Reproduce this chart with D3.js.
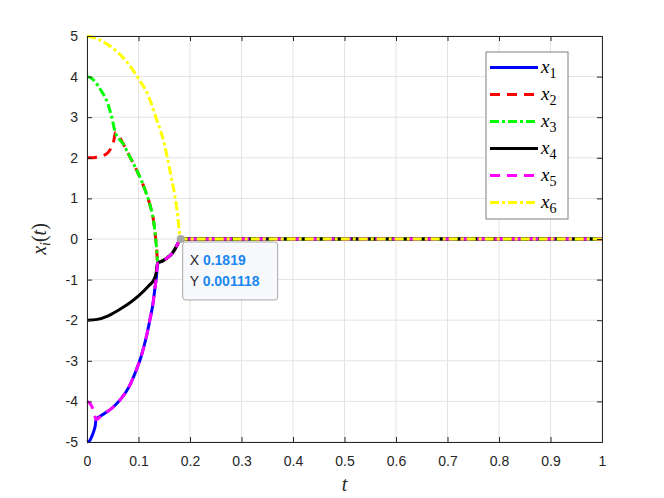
<!DOCTYPE html>
<html>
<head>
<meta charset="utf-8">
<script src="https://cdn.jsdelivr.net/npm/d3@7"></script>
<style>
    body { margin: 0; background: #fff; }
    svg { display: block; }
    .tick text { font-family: "Liberation Sans", Arial, sans-serif; font-size: 14px; fill: #262626; }
</style>
</head>
<body>
<svg id="chart" width="664" height="498"></svg>
<script>
// ticks
var xTicks = [0, 0.1, 0.2, 0.3, 0.4, 0.5, 0.6, 0.7, 0.8, 0.9, 1];
var yTicks = [-5, -4, -3, -2, -1, 0, 1, 2, 3, 4, 5];

// shared tail after the agents meet (x1, x3, x4, x5), then consensus at 0
var tailT = [0.137, 0.145, 0.155, 0.165, 0.172, 0.177, 0.1819, 1];
var tailV = [-0.6, -0.55, -0.47, -0.36, -0.22, -0.1, 0.001118, 0];

// x1 / x5 shared rising part
var lowT = [0.0175, 0.03, 0.05, 0.065, 0.08, 0.095, 0.105, 0.115, 0.122, 0.128, 0.132, 0.135];
var lowV = [-4.45, -4.33, -4.15, -3.95, -3.68, -3.25, -2.9, -2.42, -2.0, -1.6, -1.2, -0.9];

// x2 / x3 shared falling part
var midT = [0.07, 0.083, 0.1, 0.113, 0.122, 0.129, 0.133, 0.1355];
var midV = [2.35, 2.03, 1.6, 1.2, 0.85, 0.47, 0.05, -0.3];

var x1T = [0, 0.005, 0.009, 0.0135, 0.016];
var x1V = [-5, -4.97, -4.87, -4.72, -4.6];
var x2T = [0, 0.01, 0.02, 0.03, 0.04, 0.047, 0.052, 0.055];
var x2V = [2, 2.0, 2.02, 2.05, 2.12, 2.25, 2.42, 2.62];
var x3T = [0, 0.01, 0.02, 0.03, 0.04, 0.048, 0.055];
var x3V = [4, 3.95, 3.8, 3.6, 3.35, 3.0, 2.62];
var x4T = [0, 0.02, 0.04, 0.06, 0.08, 0.1, 0.12, 0.13, 0.134];
var x4V = [-2, -1.98, -1.9, -1.76, -1.6, -1.4, -1.15, -1.0, -0.85];
var x5T = [0, 0.005, 0.01, 0.014, 0.0175];
var x5V = [-4, -4.04, -4.14, -4.28, -4.45];
var x6T = [0, 0.025, 0.05, 0.075, 0.1, 0.12, 0.135, 0.15, 0.16, 0.17, 0.175, 0.1819, 1];
var x6V = [5, 4.9, 4.7, 4.4, 3.95, 3.5, 2.95, 2.35, 1.75, 1.1, 0.7, 0.001118, 0];

var names = ["1", "2", "3", "4", "5", "6"];
var colors = ["#0000ff", "#ff0000", "#00ff00", "#000000", "#ff00ff", "#ffff00"];
var dashes = [null, "10,7", "9,3,3,3", null, "10,7", "9,3,3,3"];

var tipT = 0.1819, tipV = 0.001118;

function zip(t, v) {
    return t.map(function (d, i) { return [d, v[i]]; });
}

var series = [
    zip(x1T, x1V).concat(zip(lowT, lowV), zip(tailT, tailV)),
    zip(x2T, x2V).concat(zip(midT, midV), zip(tailT, tailV)),
    zip(x3T, x3V).concat(zip(midT, midV), zip(tailT, tailV)),
    zip(x4T, x4V).concat(zip(tailT, tailV)),
    zip(x5T, x5V).concat(zip(lowT.slice(1), lowV.slice(1)), zip(tailT, tailV)),
    zip(x6T, x6V)
];

var svg = d3.select("#chart"),
    margin = {top: 36, right: 62, bottom: 56, left: 87},
    width = +svg.attr("width") - margin.left - margin.right,
    height = +svg.attr("height") - margin.top - margin.bottom,
    g = svg.append("g").attr("transform", "translate(" + margin.left + "," + margin.top + ")");

var x = d3.scaleLinear().domain([0, 1]).range([0, width]);
var y = d3.scaleLinear().domain([-5, 5]).range([height, 0]);

// grid
g.append("g").selectAll("line").data(xTicks).enter().append("line")
    .attr("x1", function (d) { return x(d); }).attr("x2", function (d) { return x(d); })
    .attr("y1", 0).attr("y2", height)
    .attr("stroke", "#e3e3e3").attr("stroke-width", 1);
g.append("g").selectAll("line").data(yTicks).enter().append("line")
    .attr("y1", function (d) { return y(d); }).attr("y2", function (d) { return y(d); })
    .attr("x1", 0).attr("x2", width)
    .attr("stroke", "#e3e3e3").attr("stroke-width", 1);

// lines
var line = d3.line()
    .curve(d3.curveMonotoneX)
    .x(function (d) { return x(d[0]); })
    .y(function (d) { return y(d[1]); });

series.forEach(function (s, i) {
    g.append("path")
        .attr("d", line(s))
        .attr("fill", "none")
        .attr("stroke", colors[i])
        .attr("stroke-width", 3)
        .attr("stroke-dasharray", dashes[i]);
});

// axes
function styleAxis(sel) {
    sel.select(".domain").attr("stroke", "#262626");
    sel.selectAll(".tick line").attr("stroke", "#262626");
}
var fmt = function (d) { return String(d); };
g.append("g").attr("transform", "translate(0," + height + ")")
    .call(d3.axisBottom(x).tickValues(xTicks).tickSize(-5).tickPadding(14).tickFormat(fmt))
    .call(styleAxis);
g.append("g")
    .call(d3.axisTop(x).tickValues(xTicks).tickSize(-5).tickFormat(""))
    .call(styleAxis);
g.append("g")
    .call(d3.axisLeft(y).tickValues(yTicks).tickSize(-5).tickPadding(9).tickFormat(fmt))
    .call(styleAxis);
g.append("g").attr("transform", "translate(" + width + ",0)")
    .call(d3.axisRight(y).tickValues(yTicks).tickSize(-5).tickFormat(""))
    .call(styleAxis);
g.selectAll(".domain").attr("stroke-width", 1);

// axis labels
svg.append("text")
    .attr("x", margin.left + width / 2).attr("y", 491)
    .attr("text-anchor", "middle")
    .style("font", "italic 20px 'Liberation Serif', serif")
    .attr("fill", "#262626")
    .text("t");

var yl = svg.append("text")
    .attr("transform", "translate(46," + (margin.top + y(0)) + ") rotate(-90)")
    .attr("text-anchor", "middle")
    .style("font", "italic 20px 'Liberation Serif', serif")
    .attr("fill", "#262626");
yl.append("tspan").text("x");
yl.append("tspan").attr("dy", 4).style("font-size", "14px").text("i");
yl.append("tspan").attr("dy", -4).style("font-style", "normal").text("(");
yl.append("tspan").text("t");
yl.append("tspan").style("font-style", "normal").text(")");

// data tip
var tx = x(tipT), ty = y(tipV);
var tip = g.append("g").attr("transform", "translate(" + (tx + 2) + "," + (ty + 3) + ")");
tip.append("rect")
    .attr("width", 95).attr("height", 58).attr("rx", 3)
    .attr("fill", "#f8f9fc").attr("stroke", "#a8a8a8").attr("stroke-width", 1);
[["X", "0.1819"], ["Y", "0.001118"]].forEach(function (r, i) {
    var t = tip.append("text")
        .attr("x", 7).attr("y", 23 + i * 21)
        .style("font", "14px 'Liberation Sans', Arial, sans-serif");
    t.append("tspan").attr("fill", "#262626").text(r[0] + " ");
    t.append("tspan").attr("fill", "#1a86f0").style("font-weight", "bold").text(r[1]);
});
g.append("circle").attr("cx", tx).attr("cy", ty).attr("r", 4)
    .attr("fill", "#a6a6a6");

// legend
var lg = svg.append("g").attr("transform", "translate(486,52)");
lg.append("rect").attr("width", 82).attr("height", 167)
    .attr("fill", "#fff").attr("stroke", "#7f7f7f").attr("stroke-width", 1);
names.forEach(function (n, i) {
    var yy = 15.5 + i * 27;
    lg.append("line")
        .attr("x1", 4).attr("x2", 52).attr("y1", yy).attr("y2", yy)
        .attr("stroke", colors[i]).attr("stroke-width", 3)
        .attr("stroke-dasharray", dashes[i]);
    var t = lg.append("text").attr("x", 55).attr("y", yy + 5)
        .style("font", "italic 19px 'Liberation Serif', serif").attr("fill", "#000");
    t.append("tspan").text("x");
    t.append("tspan").attr("dy", 5).style("font-style", "normal").style("font-size", "14px").text(n);
});
</script>
</body>
</html>
